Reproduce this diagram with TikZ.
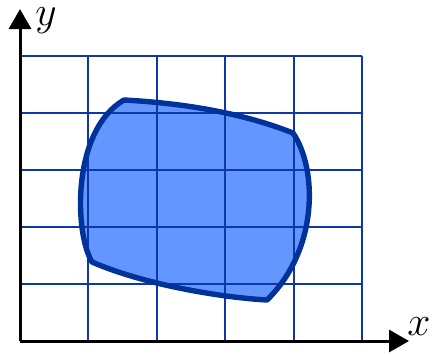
\documentclass[tikz,border=0pt]{standalone}
\usetikzlibrary{arrows.meta}
\definecolor{gridblue}{RGB}{15,55,170}
\definecolor{edgeblue}{RGB}{0,50,155}
\definecolor{fillblue}{RGB}{100,150,255}
\begin{document}
\begin{tikzpicture}[x=0.5pt,y=-0.5pt,
  gridline/.style={draw=gridblue,line width=1pt},
  axisline/.style={draw=black,line width=1.5pt,-{Triangle[length=10pt,width=11pt]}},
  blob/.style={line width=2.7pt,line join=round},
  lab/.style={font=\fontsize{21}{25}\selectfont,inner sep=0pt,anchor=base}]
\useasboundingbox (0,0) rectangle (432,354);
% region fill
\path[fill=fillblue] (124,100) .. controls (180,103) and (240,112) .. (293,133)
  .. controls (318,170) and (318,250) .. (267,300)
  .. controls (215,297) and (140,283) .. (92,262)
  .. controls (74,232) and (72,130) .. (124,100) -- cycle;
% grid
\foreach \i in {1,...,5} {
  \draw[gridline] ({20+68.4*\i},341) -- ({20+68.4*\i},56);
  \draw[gridline] (20,{341-57*\i}) -- (362,{341-57*\i});
}
% outline
\draw[blob,draw=edgeblue] (124,100) .. controls (180,103) and (240,112) .. (293,133)
  .. controls (318,170) and (318,250) .. (267,300)
  .. controls (215,297) and (140,283) .. (92,262)
  .. controls (74,232) and (72,130) .. (124,100) -- cycle;
% axes
\coordinate (O) at (20,341);
\coordinate (ytip) at (20,9);
\coordinate (xtip) at (409,341);
\draw[axisline] (O) -- (ytip);
\draw[axisline] (O) -- (xtip);
\node[lab] (ylab) at (46,25) {$y$};
\node[lab] (xlab) at (419,335) {$x$};
\end{tikzpicture}
\end{document}
